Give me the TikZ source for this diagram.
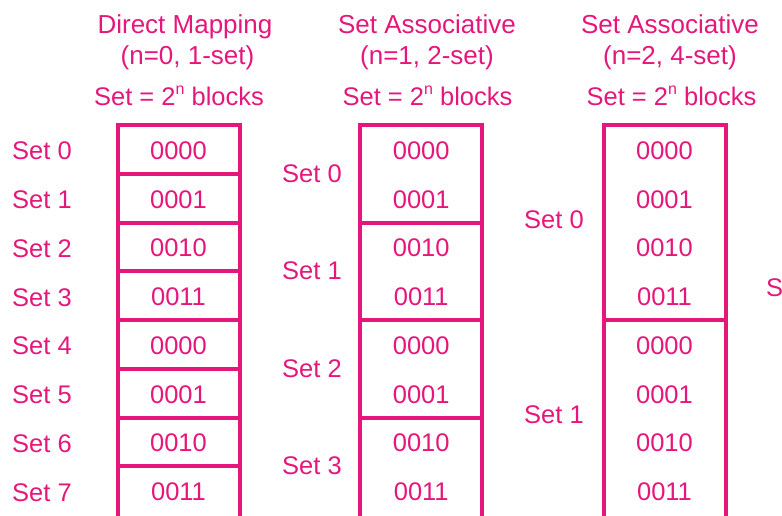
\documentclass[tikz,border=0pt]{standalone}
\usepackage{fontspec}
\setmainfont{Liberation Sans}
\definecolor{pk}{RGB}{230,23,123}
\newcommand\supn{\raisebox{10.5pt}{\fontsize{16}{16}\selectfont n}}
\begin{document}
\begin{tikzpicture}[x=1pt,y=-1pt,
  every node/.style={inner sep=0pt,outer sep=0pt,text=pk},
  lbl/.style={anchor=base,font=\fontsize{25.5}{30}\selectfont},
  hdr/.style={anchor=base,font=\fontsize{26}{30}\selectfont},
  grp/.style={draw=pk,line width=4pt,minimum width=122pt,rectangle}]
\useasboundingbox (0,0) rectangle (782,515);
\clip (0,0) rectangle (782,515);
% headers
\node[hdr] (h1a) at (185,33) {Direct Mapping};
\node[hdr] (h1b) at (187.5,64) {(n=0, 1-set)};
\node[lbl] (h1c) at (179,105) {Set = 2\supn{} blocks};
\node[hdr] (h2a) at (427,33) {Set Associative};
\node[hdr] (h2b) at (427,64) {(n=1, 2-set)};
\node[lbl] (h2c) at (427.5,105) {Set = 2\supn{} blocks};
\node[hdr] (h3a) at (670,33) {Set Associative};
\node[hdr] (h3b) at (670,64) {(n=2, 4-set)};
\node[lbl] (h3c) at (671.5,105) {Set = 2\supn{} blocks};
% column 1: 8 sets of 1 block
\foreach \i in {0,...,7} {
  \pgfmathsetmacro\ytop{125+48.75*\i}
  \pgfmathsetmacro\ybot{ifthenelse(\i==7,521,\ytop+48.75)}
  \pgfmathsetmacro\ymd{(\ytop+\ybot)/2}
  \pgfmathsetmacro\yh{\ybot-\ytop}
  \node[grp,minimum height=\yh pt] (a\i) at (178.5,\ymd) {};
  \pgfmathsetmacro\yl{125+48.75*\i+24.375+10.5}
  \node[lbl] (la\i) at (42,\yl) {Set \i};
}
% column 2: 4 sets of 2 blocks
\foreach \i in {0,...,3} {
  \pgfmathsetmacro\ytop{125+97.5*\i}
  \pgfmathsetmacro\ybot{ifthenelse(\i==3,521,\ytop+97.5)}
  \pgfmathsetmacro\ymd{(\ytop+\ybot)/2}
  \pgfmathsetmacro\yh{\ybot-\ytop}
  \node[grp,minimum height=\yh pt] (b\i) at (421.25,\ymd) {};
  \pgfmathsetmacro\yl{125+97.5*\i+48.75+8.5}
  \node[lbl] (lb\i) at (312,\yl) {Set \i};
}
% column 3: 2 sets of 4 blocks
\foreach \i in {0,1} {
  \pgfmathsetmacro\ytop{125+195*\i}
  \pgfmathsetmacro\ybot{ifthenelse(\i==1,521,\ytop+195)}
  \pgfmathsetmacro\ymd{(\ytop+\ybot)/2}
  \pgfmathsetmacro\yh{\ybot-\ytop}
  \node[grp,minimum height=\yh pt] (c\i) at (664.5,\ymd) {};
  \pgfmathsetmacro\yl{125+195*\i+97.5+6}
  \node[lbl] (lc\i) at (554,\yl) {Set \i};
}
% block contents
\foreach \r/\t in {0/0000,1/0001,2/0010,3/0011,4/0000,5/0001,6/0010,7/0011} {
  \pgfmathsetmacro\yl{125+48.75*\r+24.375+10}
  \node[lbl] (ta\r) at (178.5,\yl) {\t};
  \node[lbl] (tb\r) at (421.25,\yl) {\t};
  \node[lbl] (tc\r) at (664.5,\yl) {\t};
}
% cut-off label of the next column
\node[lbl,anchor=base west] (ld0) at (766,296) {Set 0};
\end{tikzpicture}
\end{document}
